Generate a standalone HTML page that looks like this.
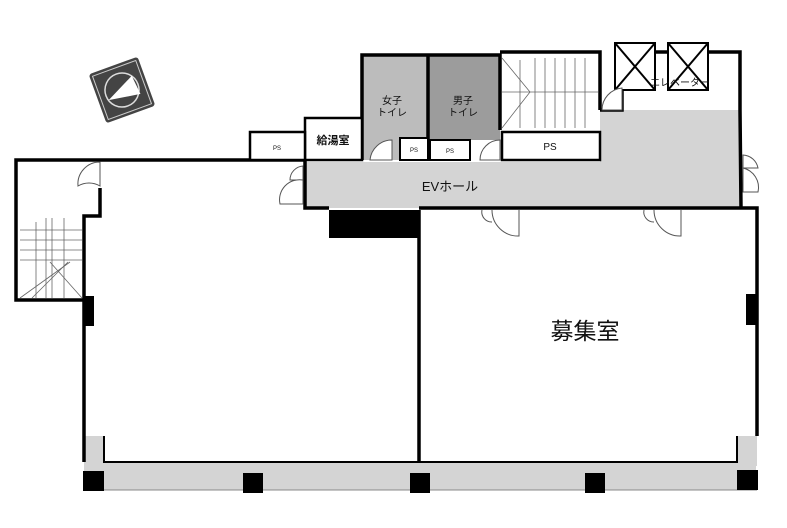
<!DOCTYPE html>
<html><head><meta charset="utf-8"><style>
html,body{margin:0;padding:0;background:#fff;}
svg{display:block}
text{font-family:"Liberation Sans","Noto Sans CJK JP",sans-serif;fill:#111}
</style></head><body>
<svg width="787" height="528" viewBox="0 0 787 528" xmlns="http://www.w3.org/2000/svg">
<!-- compass -->
<g transform="rotate(-20 122 90)">
<rect x="96" y="64" width="52" height="52" rx="3" fill="#444"/>
<rect x="99" y="67" width="46" height="46" fill="none" stroke="#ccc" stroke-width="1"/>
<circle cx="122" cy="90" r="17" fill="none" stroke="#ddd" stroke-width="1.5"/>
<polygon points="106,95 136,80 138,100" fill="#fff"/>
</g>
<!-- gray areas -->
<rect x="305" y="162" width="436" height="46" fill="#d4d4d4"/>
<rect x="600" y="110" width="141" height="55" fill="#d4d4d4"/>
<rect x="362" y="55" width="66" height="105" fill="#bcbcbc"/>
<rect x="428" y="55" width="72" height="85" fill="#9c9c9c"/>
<rect x="84" y="462" width="672" height="28" fill="#d4d4d4"/>
<rect x="84" y="436" width="20" height="30" fill="#d4d4d4"/>
<rect x="737" y="436" width="20" height="30" fill="#d4d4d4"/>
<!-- walls -->
<g fill="none" stroke="#000" stroke-width="3.5">
<polyline points="100,188 100,216 84,216 84,462"/>
<polyline points="84,300 16,300 16,160 305,160"/>
<line x1="419" y1="210" x2="419" y2="462"/>
<polyline points="419,208 757,208 757,436"/>
<polyline points="305,160 305,208 329,208"/>
<polyline points="362,160 362,55 500,55 500,130"/>
<line x1="428" y1="55" x2="428" y2="160"/>
<polyline points="500,52 600,52 600,110"/>
<polyline points="600,110 622,110 622,52 740,52 740,110 741,208"/>
</g>
<g fill="#fff" stroke="#000">
<rect x="305" y="118" width="57" height="42" stroke-width="2.5"/>
<rect x="250" y="132" width="55" height="28" stroke-width="2.5"/>
<rect x="400" y="138" width="28" height="22" stroke-width="2"/>
<rect x="430" y="140" width="40" height="20" stroke-width="2"/>
<rect x="502" y="132" width="98" height="28" stroke-width="2.5"/>
</g>
<polyline points="104,436 104,462 737,462 737,436" fill="none" stroke="#000" stroke-width="2"/>
<line x1="84" y1="490" x2="757" y2="490" stroke="#888" stroke-width="1"/>
<!-- elevators -->
<g fill="#fff" stroke="#000" stroke-width="2">
<rect x="615" y="43" width="40" height="47"/>
<rect x="668" y="43" width="40" height="47"/>
<line x1="615" y1="43" x2="655" y2="90"/><line x1="655" y1="43" x2="615" y2="90"/>
<line x1="668" y1="43" x2="708" y2="90"/><line x1="708" y1="43" x2="668" y2="90"/>
</g>
<!-- stairs -->
<g stroke="#666" stroke-width="0.8" fill="none">
<line x1="520" y1="60" x2="520" y2="128"/><line x1="535" y1="58" x2="535" y2="128"/>
<line x1="545" y1="58" x2="545" y2="128"/><line x1="555" y1="58" x2="555" y2="128"/>
<line x1="565" y1="58" x2="565" y2="128"/><line x1="575" y1="58" x2="575" y2="128"/><line x1="585" y1="58" x2="585" y2="128"/>
<line x1="502" y1="92" x2="598" y2="92"/>
<polyline points="502,58 530,92 502,128"/>
<line x1="20" y1="230" x2="82" y2="230"/><line x1="20" y1="240" x2="82" y2="240"/>
<line x1="20" y1="250" x2="82" y2="250"/><line x1="20" y1="260" x2="82" y2="260"/>
<line x1="36" y1="222" x2="36" y2="298"/><line x1="46" y1="218" x2="46" y2="298"/><line x1="52" y1="218" x2="52" y2="298"/><line x1="64" y1="218" x2="64" y2="298"/>
<line x1="20" y1="298" x2="70" y2="262"/><line x1="82" y1="298" x2="50" y2="262"/><line x1="32" y1="298" x2="68" y2="262"/>
</g>
<!-- black blocks -->
<g fill="#000">
<rect x="329" y="210" width="90" height="28"/>
<rect x="83" y="296" width="11" height="30"/>
<rect x="746" y="294" width="10" height="31"/>
<rect x="83" y="471" width="21" height="20"/>
<rect x="737" y="470" width="21" height="20"/>
<rect x="243" y="473" width="20" height="20"/>
<rect x="410" y="473" width="20" height="20"/>
<rect x="585" y="473" width="20" height="20"/>
</g>
<!-- doors -->
<g fill="#fff" stroke="#555" stroke-width="1">
<path d="M100,162 L100,186 A22,22 0 0 0 78,186 A22,22 0 0 1 100,162Z"/>
<path d="M303,166 A14,14 0 0 0 290,180 L303,180Z"/>
<path d="M303,180 A20,20 0 0 0 280,204 L303,204Z"/>
<path d="M482,210 A10,10 0 0 0 492,222 M519,210 L519,236 A26,26 0 0 1 492,210"/>
<path d="M644,210 A10,10 0 0 0 654,222 M681,210 L681,236 A26,26 0 0 1 654,210"/>
<path d="M743,155 A16,16 0 0 1 758,168 L743,168Z"/>
<path d="M743,168 A20,20 0 0 1 758,192 L743,192Z"/>
<path d="M370,160 A22,22 0 0 1 392,140 L392,160Z"/>
<path d="M480,160 A20,20 0 0 1 500,140 L500,160Z"/>
<path d="M602,110 A22,22 0 0 1 622,88 L622,110Z"/>
</g>
<!-- labels -->
<text x="392" y="104" font-size="10" text-anchor="middle">女子</text>
<text x="392" y="116" font-size="10" text-anchor="middle">トイレ</text>
<text x="463" y="104" font-size="10" text-anchor="middle">男子</text>
<text x="463" y="116" font-size="10" text-anchor="middle">トイレ</text>
<text x="333" y="144" font-size="11" font-weight="bold" text-anchor="middle">給湯室</text>
<text x="277" y="150" font-size="6" text-anchor="middle">PS</text>
<text x="414" y="152" font-size="6" text-anchor="middle">PS</text>
<text x="450" y="153" font-size="6" text-anchor="middle">PS</text>
<text x="550" y="150" font-size="10" text-anchor="middle">PS</text>
<text x="450" y="191" font-size="13" text-anchor="middle">EVホール</text>
<text x="680" y="86" font-size="10" text-anchor="middle">エレベーター</text>
<text x="585" y="339" font-size="23" text-anchor="middle">募集室</text>
</svg>
</body></html>
